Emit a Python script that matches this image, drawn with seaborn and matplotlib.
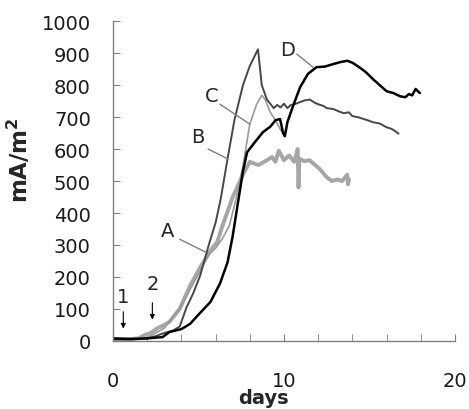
import numpy as np
import pandas as pd
import matplotlib
matplotlib.use('Agg')
import matplotlib.pyplot as plt
import seaborn as sns

# Curve A (thick light gray)
a_days = [0, 0.8, 1.5, 1.75, 2.2, 2.6, 3.0, 3.3, 3.9, 4.5, 5.1, 5.8, 6.1, 6.4, 7.0, 7.6,
          8.0, 8.5, 9.0, 9.3, 9.5, 9.7, 10.0, 10.3, 10.6, 10.8, 10.85, 10.9, 11.2, 11.5,
          12.1, 12.5, 12.8, 13.1, 13.4, 13.7, 13.75, 13.8]
a_vals = [5, 5, 8, 16, 25, 40, 50, 60, 100, 172, 230, 290, 310, 360, 450, 520,
          560, 550, 565, 575, 560, 595, 565, 580, 560, 600, 480, 570, 562, 565,
          537, 512, 500, 505, 500, 520, 490, 505]

# Curve B (dark gray, peak then long tail)
b_days = [0, 1, 2, 2.5, 3, 3.5, 3.9, 4.3, 4.7, 5.1, 5.6, 6.0, 6.3, 6.7, 7.1, 7.6, 8.0,
          8.48, 8.7, 9.0, 9.4, 9.6, 9.8, 10.0, 10.2, 10.4, 10.6, 10.9, 11.2, 11.5, 11.8,
          12.0, 12.3, 12.5, 12.9, 13.2, 13.5, 13.8, 14.0, 14.3, 14.6, 14.9, 15.2, 15.6,
          16.0, 16.2, 16.4, 16.7]
b_vals = [5, 5, 8, 15, 25, 32, 45, 105, 150, 205, 300, 370, 444, 570, 690, 800, 860,
          912, 800, 755, 728, 738, 730, 742, 728, 738, 740, 746, 752, 755, 745,
          740, 735, 728, 725, 718, 712, 715, 703, 700, 695, 690, 684, 680,
          668, 665, 660, 648]

# Curve C (light gray thin)
c_days = [0, 2, 3, 4, 5, 5.6, 6.0, 6.4, 6.8, 7.2, 7.6, 8.0, 8.4, 8.7, 8.9, 9.2, 9.5,
          9.8, 10.0]
c_vals = [5, 10, 40, 110, 210, 270, 290, 320, 360, 444, 547, 678, 740, 768, 755, 715,
          690, 660, 645]

# Curve D (black)
d_days = [0, 1, 2, 2.9, 3.3, 4.0, 4.5, 5.1, 5.7, 6.26, 6.7, 7.0, 7.3, 7.6, 7.84, 8.2,
          8.77, 9.2, 9.5, 9.77, 9.95, 10.05, 10.2, 10.5, 10.94, 11.4, 11.9, 12.4, 12.9,
          13.3, 13.7, 14.0, 14.4, 14.8, 15.2, 15.6, 16.0, 16.4, 16.8, 17.1, 17.3, 17.5,
          17.7, 17.95]
d_vals = [8, 6, 8, 12, 28, 37, 53, 88, 122, 180, 246, 328, 430, 530, 590, 615,
          653, 670, 690, 694, 650, 640, 684, 730, 793, 835, 856, 858, 866,
          872, 876, 870, 856, 840, 819, 800, 781, 775, 765, 762, 772, 768,
          788, 775]

sns.set_style('white')
plt.rcParams['font.family'] = ['DejaVu Sans']

fig = plt.figure(figsize=(4.69, 4.10), dpi=100)
ax = fig.add_axes([0.241, 0.166, 0.729, 0.780])

sns.lineplot(x=a_days, y=a_vals, ax=ax, color='#a6a6a6', lw=2.8)
sns.lineplot(x=c_days, y=c_vals, ax=ax, color='#9a9a9a', lw=1.2)
sns.lineplot(x=b_days, y=b_vals, ax=ax, color='#474747', lw=1.4)
sns.lineplot(x=d_days, y=d_vals, ax=ax, color='black', lw=1.8)

ax.set_xlim(0, 20)
ax.set_ylim(0, 1000)
ax.set_xticks([0, 10, 20])
ax.set_xticks(np.arange(0, 21, 2), minor=True)
ax.set_yticks(np.arange(0, 1001, 100))
ax.tick_params(axis='x', which='both', direction='in', length=5, color='#808080',
               labelsize=14, pad=22, bottom=True, labelcolor='#1a1a1a')
ax.tick_params(axis='y', direction='in', length=5, color='#808080', labelsize=14,
               pad=16, left=True, labelcolor='#1a1a1a')
for s in ['top', 'right']:
    ax.spines[s].set_visible(False)
for s in ['left', 'bottom']:
    ax.spines[s].set_color('#808080')
    ax.spines[s].set_linewidth(1)

ax.set_xlabel('days', fontsize=14, fontweight='bold')
ax.xaxis.set_label_coords(0.44, -0.148)
ax.xaxis.label.set_va('top')
ax.set_ylabel('mA/m$^\\mathbf{2}$', fontsize=16.5, fontweight='bold')
ax.yaxis.set_label_coords(-0.235, 0.57)

# curve labels with leader lines
labels = [('A', 3.16, 344, 3.9, 318, 5.4, 278),
          ('B', 4.97, 640, 5.56, 600, 6.73, 569),
          ('C', 5.79, 766, 6.26, 740, 8.0, 678),
          ('D', 10.2, 912, 10.75, 897, 11.7, 856)]
for txt, tx, ty, x0, y0, x1, y1 in labels:
    ax.text(tx, ty, txt, fontsize=14, ha='center', va='center')
    ax.plot([x0, x1], [y0, y1], color='#808080', lw=1)

# arrows 1 and 2
ax.annotate('', xy=(0.6, 30), xytext=(0.6, 100),
            arrowprops=dict(arrowstyle='-|>', color='black', lw=0.8, mutation_scale=7))
ax.text(0.6, 140, '1', fontsize=14, ha='center', va='center')
ax.annotate('', xy=(2.3, 58), xytext=(2.3, 128),
            arrowprops=dict(arrowstyle='-|>', color='black', lw=0.8, mutation_scale=7))
ax.text(2.3, 180, '2', fontsize=14, ha='center', va='center')

fig.savefig('out.png', dpi=100)
